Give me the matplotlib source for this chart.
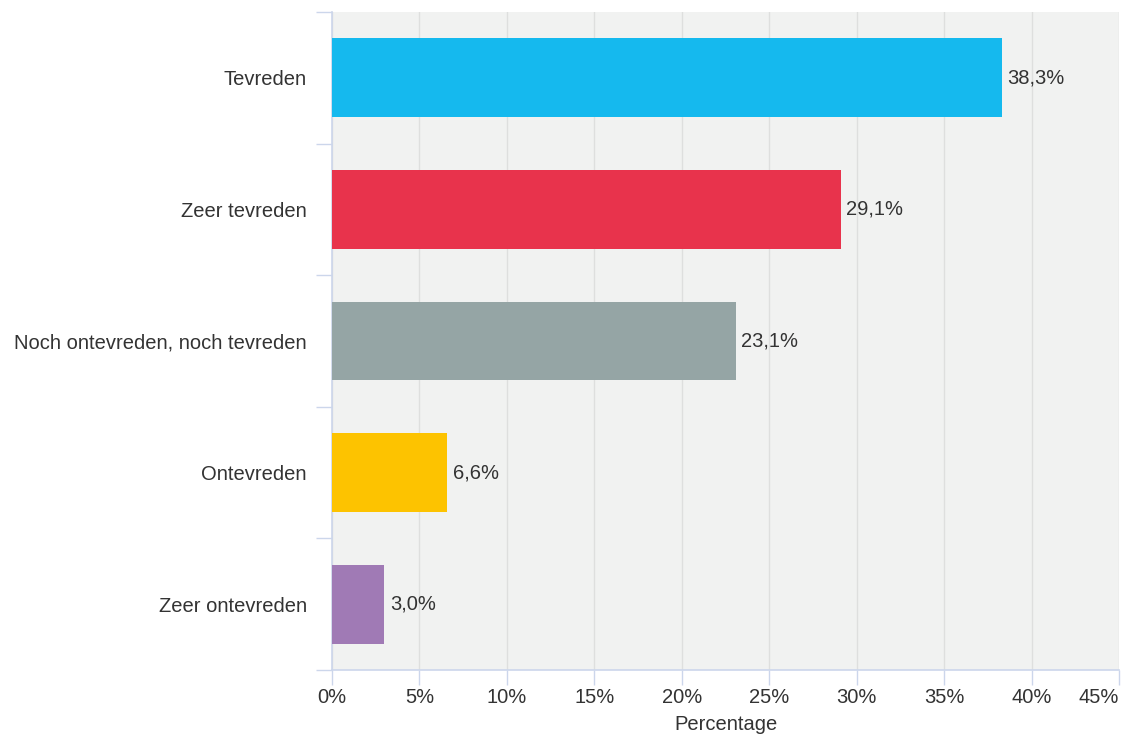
import matplotlib.pyplot as plt
import numpy as np

categories = ["Tevreden", "Zeer tevreden", "Noch ontevreden, noch tevreden",
              "Ontevreden", "Zeer ontevreden"]
values = [38.3, 29.1, 23.1, 6.6, 3.0]
value_labels = ["38,3%", "29,1%", "23,1%", "6,6%", "3,0%"]
colors = ["#15b9ee", "#e8334c", "#95a5a5", "#fdc300", "#a07ab5"]
xticks = [0, 5, 10, 15, 20, 25, 30, 35, 40, 45]

plt.rcParams["font.family"] = ["Liberation Sans", "DejaVu Sans"]
axis_col = "#ccd6eb"
text_col = "#333333"
fs = 14.5

fig = plt.figure(figsize=(11.25, 7.37), dpi=100)
ax = fig.add_axes([332 / 1125, 1 - 670 / 737, 787 / 1125, 658 / 737])
ax.set_facecolor("#f1f2f1")

y = np.arange(len(categories))
ax.barh(y, values, height=0.6, color=colors, zorder=3)
for yi, v, lab in zip(y, values, value_labels):
    ax.text(v + 0.3, yi, lab, va="center", ha="left", fontsize=fs, color=text_col, zorder=4)

ax.set_xlim(0, 45)
ax.set_ylim(len(categories) - 0.5, -0.5)
ax.set_xticks(xticks)
ax.set_xticklabels([f"{t}%" for t in xticks], fontsize=fs, color=text_col)
ax.get_xticklabels()[-1].set_horizontalalignment("right")
ax.set_yticks(y)
ax.set_yticklabels(categories, fontsize=fs, color=text_col)
ax.set_yticks(np.arange(-0.5, len(categories)), minor=True)

ax.tick_params(axis="y", which="major", length=0, pad=18)
ax.tick_params(axis="y", which="minor", length=11.5, color=axis_col, width=1)
ax.tick_params(axis="x", which="major", length=11, color=axis_col, width=1, pad=2)

ax.grid(axis="x", color="#dedfde", linewidth=1, zorder=0)
for s in ["top", "right"]:
    ax.spines[s].set_visible(False)
for s in ["left", "bottom"]:
    ax.spines[s].set_color(axis_col)
    ax.spines[s].set_linewidth(1.2)

ax.set_xlabel("Percentage", fontsize=fs, color=text_col, labelpad=6)

fig.savefig("out.png", dpi=100)
